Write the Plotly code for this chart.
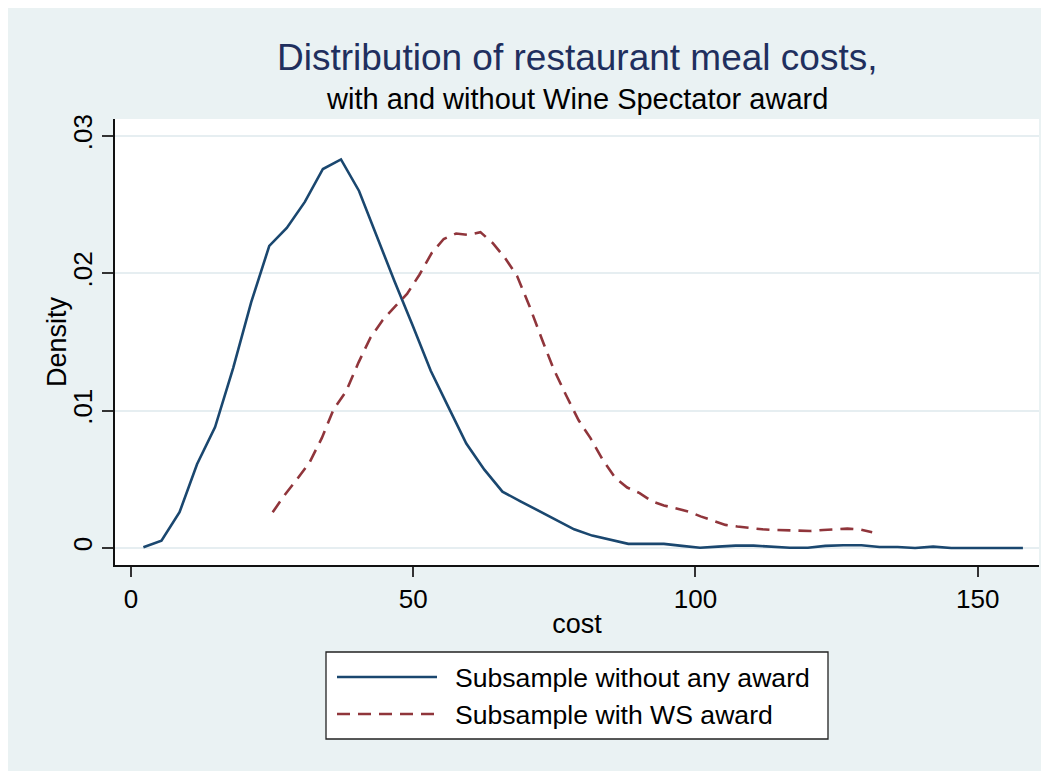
import plotly.graph_objects as go

# ---- data ----
cost_no_award = [2.2, 5.4, 8.6, 11.7, 14.9, 18.1, 21.3, 24.5, 27.6, 30.8,
                 34.0, 37.2, 40.4, 43.5, 46.7, 49.9, 53.1, 56.3, 59.4, 62.6,
                 65.8, 69.0, 72.2, 75.3, 78.5, 81.7, 84.9, 88.1, 91.2, 94.4,
                 97.6, 100.8, 104.0, 107.1, 110.3, 113.5, 116.7, 119.9, 123.0, 126.2,
                 129.4, 132.6, 135.8, 138.9, 142.1, 145.3, 148.5, 151.7, 154.8, 158.0]
dens_no_award = [0.00005, 0.00053, 0.0026, 0.0061, 0.0088, 0.0131, 0.0179, 0.0220, 0.0233, 0.0252,
                 0.0276, 0.0283, 0.0260, 0.0227, 0.0194, 0.0162, 0.0129, 0.0102, 0.0076, 0.0057,
                 0.0041, 0.0034, 0.0027, 0.0020, 0.00136, 0.0009, 0.00058, 0.0003, 0.0003, 0.0003,
                 0.00015, 0.00002, 0.0001, 0.00017, 0.00017, 0.0001, 0.00002, 0.00002, 0.00015, 0.0002,
                 0.0002, 0.00007, 0.00007, 0.0, 0.0001, 0.0, 0.0, 0.0, 0.0, 0.0]

cost_ws_award = [25.1, 27.3, 29.4, 31.6, 33.8, 35.9, 38.1, 40.3, 42.4, 44.6,
                 46.8, 48.9, 51.1, 53.3, 55.4, 57.6, 59.8, 61.9, 64.1, 66.3,
                 68.4, 70.6, 72.8, 74.9, 77.1, 79.3, 81.4, 83.6, 85.8, 87.9,
                 90.1, 92.3, 94.4, 96.6, 98.8, 100.9, 103.1, 105.3, 107.4, 109.6,
                 111.8, 113.9, 116.1, 118.3, 120.4, 122.6, 124.8, 126.9, 129.1, 131.3]
dens_ws_award = [0.0026, 0.0039, 0.0050, 0.0062, 0.0080, 0.0101, 0.0114, 0.0135, 0.0153, 0.0166,
                 0.0176, 0.0185, 0.0199, 0.0215, 0.0225, 0.0229, 0.0228, 0.0230, 0.0222, 0.0211,
                 0.0198, 0.0176, 0.0152, 0.0130, 0.0111, 0.0093, 0.0080, 0.0064, 0.0051, 0.0044,
                 0.0040, 0.0034, 0.0031, 0.0029, 0.00265, 0.0023, 0.0020, 0.00168, 0.00156, 0.00144,
                 0.00136, 0.00131, 0.00129, 0.00124, 0.00124, 0.00131, 0.00136, 0.00141, 0.00136, 0.00115]

series_names = ["Subsample without any award", "Subsample with WS award"]
x_ticks = [0, 50, 100, 150]
y_ticks = [0, 0.01, 0.02, 0.03]
y_tick_labels = ["0", ".01", ".02", ".03"]

title_text = "Distribution of restaurant meal costs,"
subtitle_text = "with and without Wine Spectator award"
x_title = "cost"
y_title = "Density"

# ---- style ----
NAVY = "#1A476F"
MAROON = "#90353B"
BG = "#EAF2F3"
FONT = "Liberation Sans, Arial, sans-serif"

fig = go.Figure()
fig.add_trace(go.Scatter(x=cost_no_award, y=dens_no_award, mode="lines",
                         name=series_names[0],
                         line=dict(color=NAVY, width=2.6)))
fig.add_trace(go.Scatter(x=cost_ws_award, y=dens_ws_award, mode="lines",
                         name=series_names[1],
                         line=dict(color=MAROON, width=2.6, dash="13px,8px")))

OFF = 8  # browser body margin
W, H = 1049 - OFF, 771 - OFF
L, R, T, B = 115 - OFF, 10, 119 - OFF, 206
pw, ph = W - L - R, H - T - B


def px_x(p):  # window pixel -> paper x
    return (p - OFF - L) / pw


def px_y(p):  # window pixel -> paper y
    return (OFF + T + ph - p) / ph


shapes = [
    # legend box
    dict(type="rect", xref="paper", yref="paper",
         x0=px_x(326), x1=px_x(828), y0=px_y(739), y1=px_y(652),
         fillcolor="white", line=dict(color="#222222", width=1.3)),
    dict(type="line", xref="paper", yref="paper",
         x0=px_x(337), x1=px_x(437), y0=px_y(677), y1=px_y(677),
         line=dict(color=NAVY, width=2.6)),
    dict(type="line", xref="paper", yref="paper",
         x0=px_x(337), x1=px_x(437), y0=px_y(714), y1=px_y(714),
         line=dict(color=MAROON, width=2.6, dash="13px,8px")),
]

annotations = [
    dict(text=title_text, xref="paper", yref="paper", x=0.5, y=px_y(57),
         xanchor="center", yanchor="middle", showarrow=False,
         font=dict(family=FONT, size=37, color="#1F2F5E")),
    dict(text=subtitle_text, xref="paper", yref="paper", x=0.5, y=px_y(99.5),
         xanchor="center", yanchor="middle", showarrow=False,
         font=dict(family=FONT, size=29, color="black")),
    dict(text=series_names[0], xref="paper", yref="paper", x=px_x(453), y=px_y(678),
         xanchor="left", yanchor="middle", showarrow=False,
         font=dict(family=FONT, size=26.6, color="black")),
    dict(text=series_names[1], xref="paper", yref="paper", x=px_x(453), y=px_y(715),
         xanchor="left", yanchor="middle", showarrow=False,
         font=dict(family=FONT, size=26.6, color="black")),
    dict(text=y_title, xref="paper", yref="paper", x=px_x(57), y=0.5,
         xanchor="center", yanchor="middle", showarrow=False, textangle=-90,
         font=dict(family=FONT, size=27, color="black")),
]

fig.update_layout(
    width=W, height=H,
    margin=dict(l=L, r=R, t=T, b=B, pad=0),
    paper_bgcolor=BG,
    plot_bgcolor="white",
    showlegend=False,
    font=dict(family=FONT, color="black"),
    shapes=shapes,
    annotations=annotations,
)

fig.update_xaxes(
    range=[-2.83, 160.85], tickvals=x_ticks, ticktext=[str(v) for v in x_ticks],
    showgrid=False, zeroline=False,
    showline=True, linecolor="#111111", linewidth=1.5,
    ticks="outside", ticklen=10, tickwidth=1.5, tickcolor="#333333",
    tickfont=dict(size=26, family=FONT, color="black"),
    title=dict(text=x_title, font=dict(size=27, family=FONT, color="black"), standoff=1),
)
fig.update_yaxes(
    range=[-0.00124, 0.03124], tickvals=y_ticks, ticktext=y_tick_labels,
    showgrid=True, gridcolor="#E6EEF1", gridwidth=2, zeroline=False,
    showline=True, linecolor="#111111", linewidth=1.5,
    ticks="outside", ticklen=11, tickwidth=1.5, tickcolor="#333333",
    tickangle=-90,
    tickfont=dict(size=26, family=FONT, color="black"),
)

fig.write_html("out.html")
